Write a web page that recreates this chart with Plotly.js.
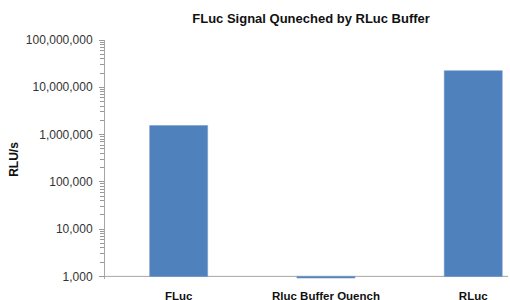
<!DOCTYPE html>
<html>
<head>
<meta charset="utf-8">
<script src="https://cdn.plot.ly/plotly-3.0.1.min.js"></script>
<style>html,body{margin:0;padding:0;background:#fff;}#chart{width:510px;height:300px;}</style>
</head>
<body>
<div id="chart"></div>
<script>
var categories = ["FLuc", "Rluc Buffer Quench", "RLuc"];
var values = [1550000, 920, 22500000];
var baseValue = 1000;
var titleText = "FLuc Signal Quneched by RLuc Buffer";
var yTitle = "RLU/s";
var decades = [1000, 10000, 100000, 1000000, 10000000];
var minorDigits = [2, 3, 4, 5, 6, 7, 8, 9];

var minorVals = [];
decades.forEach(function (d) { minorDigits.forEach(function (m) { minorVals.push(d * m); }); });

var trace = {
  type: "bar",
  x: categories,
  y: values.map(function (v) { return v - baseValue; }),
  base: baseValue,
  width: 0.394,
  marker: { color: "#4F81BD", line: { color: "#6F97CB", width: 0.5 } },
  hoverinfo: "skip"
};
var minorAxisHolder = { type: "scatter", mode: "none", x: [], y: [], yaxis: "y2", hoverinfo: "skip", showlegend: false };

var yRange = [Math.log10(880), 8];

var layout = {
  width: 510, height: 300,
  paper_bgcolor: "#ffffff", plot_bgcolor: "#ffffff",
  margin: { l: 105, r: 2, t: 40, b: 21 },
  showlegend: false,
  title: { text: titleText, x: 0.61, xanchor: "center", y: 0.94, yanchor: "middle",
           font: { family: "Liberation Sans, Arial, sans-serif", size: 13, color: "#111", weight: "bold" } },
  font: { family: "Liberation Sans, Arial, sans-serif" },
  xaxis: {
    type: "category",
    range: [-0.5, 2.236],
    showline: false, ticks: "", showgrid: false, zeroline: false,
    tickfont: { size: 11.5, color: "#111", weight: "bold" },
    ticklabelstandoff: 8
  },
  yaxis: {
    type: "log",
    range: yRange,
    tickmode: "linear", tick0: 0, dtick: 1,
    tickformat: ",.0f",
    ticks: "outside", ticklen: 5, tickcolor: "#999999", tickwidth: 1,
    showline: true, linecolor: "#a6a6a6", linewidth: 1,
    showgrid: false, zeroline: false,
    tickfont: { size: 12, color: "#333" },
    ticklabelstandoff: 4,
    title: { text: yTitle, standoff: 4, font: { size: 12, color: "#111", weight: "bold" } }
  },
  yaxis2: {
    type: "log", overlaying: "y", side: "left", anchor: "x",
    range: yRange, fixedrange: true, autorange: false,
    tickmode: "array", tickvals: minorVals, showticklabels: false,
    ticks: "outside", ticklen: 4, tickwidth: 1, tickcolor: "#999999",
    showline: false, showgrid: false, zeroline: false
  },
  shapes: [{
    type: "line", xref: "paper", yref: "y", x0: 0, x1: 1, y0: baseValue, y1: baseValue,
    line: { color: "#a6a6a6", width: 1 }, layer: "below"
  }]
};

Plotly.newPlot("chart", [trace, minorAxisHolder], layout, { staticPlot: true, displayModeBar: false });
</script>
</body>
</html>
